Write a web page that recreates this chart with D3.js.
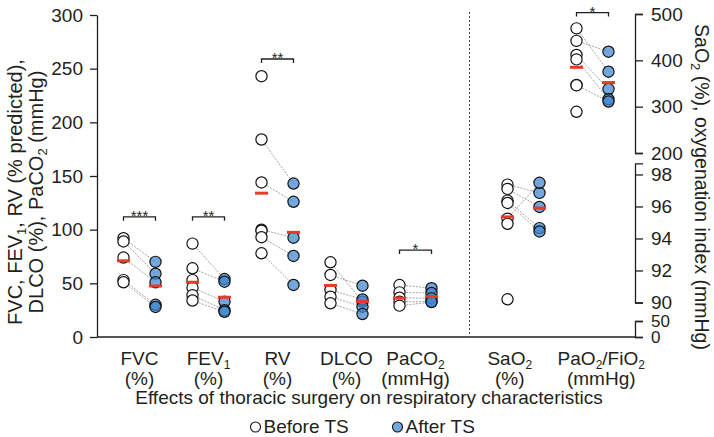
<!DOCTYPE html>
<html><head><meta charset="utf-8">
<script src="https://cdn.jsdelivr.net/npm/d3@7"></script>
<style>
body{margin:0;background:#fff}
svg{display:block}
text{font-family:"Liberation Sans",Arial,Helvetica,sans-serif;fill:#231f20}
</style>
</head><body>
<svg id="c" width="714" height="437"></svg>
<script>
// ---------------- data ----------------
const categories = ["FVC","FEV1","RV","DLCO","PaCO2","SaO2","PaO2/FiO2"];
const labelLine1 = ["FVC","FEV_1","RV","DLCO","PaCO_2","SaO_2","PaO_2/FiO_2"];
const labelLine2 = ["(%)","(%)","(%)","(%)","(mmHg)","(%)","(mmHg)"];

const fvcBefore   = [92, 89, 74, 53, 51];
const fvcAfter    = [70, 59, 51, 30, 28];
const fev1Before  = [87, 64, 53, 46, 39, 34];
const fev1After   = [54, 51.5, null, 33, 25, 23.5];
const rvBefore    = [243, 184, 144, 100, 99, 93, 78];
const rvAfter     = [null, 143, 126, 92.5, null, 75.5, 48.5];
const dlcoBefore  = [69.6, 57.8, 43.8, 37.5, 31.4];
const dlcoAfter   = [33, 47.8, 35, 28.2, 21.4];
const paco2Before = [48.4, 41.6, 36.6, 32.9, 29.2];
const paco2After  = [45.5, 41, 36, 33, 32.5];
const sao2Before  = [97.37, 97.1, 96.37, 96.22, 95.24, 94.92, 90.2];
const sao2After   = [96.85, 95.97, 94.65, 94.44, 97.48, null, null];
const pfBefore    = [469, 442, 411.5, 402, 347, 346, 289];
const pfAfter     = [375.5, 418.6, 338, 316, 311, null, null];

const meanBefore  = [71, 51, 134, 48, 36.2, 95.35, 385];
const meanAfter   = [47.5, 37, 97.5, 33, 37.6, 95.9, 352];
const sigLabels   = ["***","**","**","","*","","*"];

const leftTicks = [0,50,100,150,200,250,300];
const oxyTicks  = [200,300,400,500];
const saTicks   = [90,92,94,96,98];
const lowTicks  = [0,50];
const groups    = ["Before","After"];
const legendLabels = ["Before TS","After TS"];

const seriesBefore = [fvcBefore,fev1Before,rvBefore,dlcoBefore,paco2Before,sao2Before,pfBefore];
const seriesAfter  = [fvcAfter,fev1After,rvAfter,dlcoAfter,paco2After,sao2After,pfAfter];

// ---------------- layout ----------------
const svg = d3.select("#c");
const leftCats = categories.slice(0,5), rightCats = categories.slice(5);
const xLeft  = d3.scaleBand(leftCats,[105,450]);
const xRight = d3.scaleBand(rightCats,[489,627]);
const xRightLabel = d3.scaleBand(rightCats,[464,647]);
const xc = c => leftCats.includes(c) ? xLeft(c)+xLeft.bandwidth()/2 : xRight(c)+xRight.bandwidth()/2;
const xLab = c => leftCats.includes(c) ? xc(c) : xRightLabel(c)+xRightLabel.bandwidth()/2;
const off = d3.scalePoint(groups,[-16,16]);

const yLeft = d3.scaleLinear([0,300],[337,15]);
const yOxy  = d3.scaleLinear([200,500],[153,14]);
const ySa   = d3.scaleLinear([90,98.7],[302.5,163.3]);
const yLow  = d3.scaleLinear([0,50],[337,321]);
const yFor  = c => c==="SaO2" ? ySa : (c==="PaO2/FiO2" ? yOxy : yLeft);

const BLUE = "#3f86cf", RED = "#e8392b";

function rich(sel, str, subSize, subDy){
  const parts = str.split(/_(\d)/);
  let shifted = false;
  parts.forEach((p,i)=>{
    if(i%2===1){ sel.append("tspan").attr("font-size",subSize).attr("dy",subDy).text(p); shifted=true; }
    else if(p){ const t = sel.append("tspan").text(p); if(shifted){ t.attr("dy",-subDy); shifted=false; } }
  });
  return sel;
}

// ---------------- axes ----------------
const axL = svg.append("g").attr("transform","translate(97,0)")
  .call(d3.axisLeft(yLeft).tickValues(leftTicks).tickSize(7).tickSizeOuter(0).tickPadding(7));
const axO = svg.append("g").attr("transform","translate(635,0)")
  .call(d3.axisRight(yOxy).tickValues(oxyTicks).tickSize(8).tickSizeOuter(8).tickPadding(8));
const axS = svg.append("g").attr("transform","translate(635,0)")
  .call(d3.axisRight(ySa).tickValues(saTicks).tickSize(8).tickSizeOuter(8).tickPadding(8));
const axW = svg.append("g").attr("transform","translate(635,0)")
  .call(d3.axisRight(yLow).tickValues(lowTicks).tickSize(8).tickSizeOuter(8).tickPadding(8));
[axL,axO,axS,axW].forEach(a=>{
  a.selectAll("path,line").attr("stroke","#231f20").attr("stroke-width",1.3);
  a.selectAll("text").attr("font-size",19).attr("fill","#231f20").style("font-family",'"Liberation Sans",Arial,sans-serif');
});
axW.selectAll("text").attr("font-size",17);
svg.append("line").attr("x1",97).attr("x2",635).attr("y1",yLeft(0)).attr("y2",yLeft(0))
  .attr("stroke","#231f20").attr("stroke-width",1.6);

// separator
const sepX = (xLeft.range()[1]+xRight.range()[0])/2;
svg.append("line").attr("x1",sepX).attr("x2",sepX).attr("y1",12).attr("y2",yLeft(0))
  .attr("stroke","#444").attr("stroke-width",1).attr("stroke-dasharray","2,2");

// ---------------- marks ----------------
categories.forEach((c,ci)=>{
  const y = yFor(c), cx = xc(c);
  const b = seriesBefore[ci], a = seriesAfter[ci];
  const g = svg.append("g");
  b.forEach((bv,i)=>{
    if(bv==null || a[i]==null) return;
    g.append("line").attr("x1",cx+off("Before")).attr("y1",y(bv))
      .attr("x2",cx+off("After")).attr("y2",y(a[i]))
      .attr("stroke","#9a9a9a").attr("stroke-width",0.9).attr("stroke-dasharray","2,1.3");
  });
  b.forEach(bv=>{ if(bv==null) return;
    g.append("circle").attr("cx",cx+off("Before")).attr("cy",y(bv)).attr("r",5.6)
      .attr("fill","#fff").attr("stroke","#111").attr("stroke-width",1.2);
  });
  a.forEach(av=>{ if(av==null) return;
    g.append("circle").attr("cx",cx+off("After")).attr("cy",y(av)).attr("r",5.6)
      .attr("fill",BLUE).attr("fill-opacity",0.72).attr("stroke","#111").attr("stroke-width",1.2);
  });
  [[meanBefore,"Before"],[meanAfter,"After"]].forEach(([m,gk])=>{
    g.append("line").attr("x1",cx+off(gk)-6.5).attr("x2",cx+off(gk)+6.5)
      .attr("y1",y(m[ci])).attr("y2",y(m[ci])).attr("stroke",RED).attr("stroke-width",3);
  });
});

// significance brackets
const bracketY = {"FVC":yLeft(112),"FEV1":yLeft(112),"RV":yLeft(259),"PaCO2":yLeft(81),"PaO2/FiO2":yOxy(503)};
categories.forEach((c,ci)=>{
  if(!sigLabels[ci]) return;
  const cx = xc(c), by = bracketY[c];
  const x1 = cx+off("Before"), x2 = cx+off("After");
  svg.append("path").attr("d",`M${x1},${by+4}V${by}H${x2}V${by+4}`)
    .attr("fill","none").attr("stroke","#231f20").attr("stroke-width",1.3);
  svg.append("text").attr("x",cx).attr("y",by+4).attr("text-anchor","middle")
    .attr("font-size",15).attr("fill","#333").text(sigLabels[ci]);
});

// x category labels
categories.forEach((c,ci)=>{
  const t1 = svg.append("text").attr("x",xLab(c)).attr("y",365).attr("text-anchor","middle").attr("font-size",19);
  rich(t1,labelLine1[ci],12,4);
  svg.append("text").attr("x",xLab(c)).attr("y",385).attr("text-anchor","middle").attr("font-size",19).text(labelLine2[ci]);
});

// axis titles
svg.append("text").attr("x",369).attr("y",404).attr("text-anchor","middle").attr("font-size",19)
  .text("Effects of thoracic surgery on respiratory characteristics");

const yl1 = svg.append("text").attr("transform","translate(22,192) rotate(-90)").attr("text-anchor","middle").attr("font-size",20);
rich(yl1,"FVC, FEV_1, RV (% predicted),",13,4);
const yl2 = svg.append("text").attr("transform","translate(43,192) rotate(-90)").attr("text-anchor","middle").attr("font-size",20);
rich(yl2,"DLCO (%), PaCO_2 (mmHg)",13,4);

const yr = svg.append("text").attr("transform","translate(695,187) rotate(90)").attr("text-anchor","middle").attr("font-size",19.5);
rich(yr,"SaO_2 (%), oxygenation index (mmHg)",13,4);

// legend
const legX = [255.5, 397.5];
groups.forEach((gk,i)=>{
  svg.append("circle").attr("cx",legX[i]).attr("cy",427).attr("r",5)
    .attr("fill", gk==="Before" ? "#fff" : BLUE).attr("fill-opacity", gk==="Before"?1:0.72)
    .attr("stroke","#111").attr("stroke-width",1.1);
  svg.append("text").attr("x",legX[i]+8).attr("y",433).attr("font-size",19).text(legendLabels[i]);
});
</script>
</body></html>
